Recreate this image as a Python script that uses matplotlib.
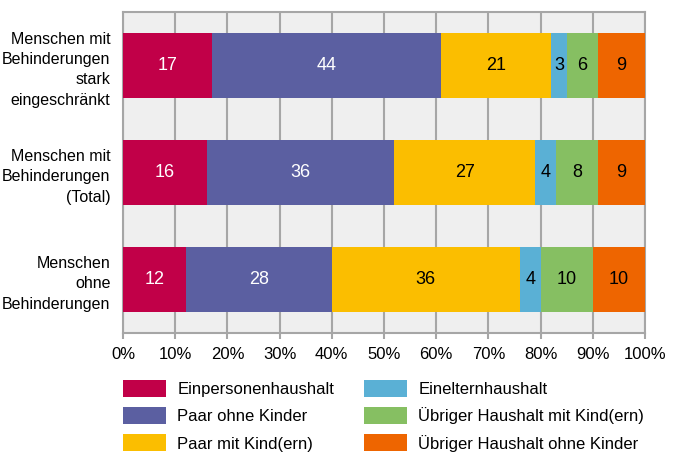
import matplotlib.pyplot as plt
from matplotlib.patches import Patch

plt.rcParams['font.family'] = ['Liberation Sans', 'DejaVu Sans']

groups = ["Menschen mit\nBehinderungen\nstark\neingeschränkt",
          "Menschen mit\nBehinderungen\n(Total)",
          "Menschen\nohne\nBehinderungen"]
series = ["Einpersonenhaushalt", "Paar ohne Kinder", "Paar mit Kind(ern)",
          "Einelternhaushalt", "Übriger Haushalt mit Kind(ern)",
          "Übriger Haushalt ohne Kinder"]
einpersonen = [17, 16, 12]
paar_ohne = [44, 36, 28]
paar_mit = [21, 27, 36]
eineltern = [3, 4, 4]
uebrig_mit = [6, 8, 10]
uebrig_ohne = [9, 9, 10]
values = [einpersonen, paar_ohne, paar_mit, eineltern, uebrig_mit, uebrig_ohne]
colors = ["#C10048", "#5B5FA1", "#FBBE00", "#5AB0D5", "#86BF62", "#EE6500"]
text_colors = ["white", "white", "black", "black", "black", "black"]

fig = plt.figure(figsize=(6.74, 4.53), dpi=100)
ax = fig.add_axes([123 / 674, 1 - 333 / 453, 522 / 674, 321 / 453])
ax.set_facecolor("#EFEFEF")

y = [0, 1, 2]
left = [0, 0, 0]
for vals, col, tc in zip(values, colors, text_colors):
    bars = ax.barh(y, vals, left=left, height=0.6, color=col, zorder=3)
    for b, v in zip(bars, vals):
        ax.text(b.get_x() + b.get_width() / 2, b.get_y() + b.get_height() / 2,
                str(v), ha="center", va="center", color=tc, fontsize=13, zorder=4)
    left = [l + v for l, v in zip(left, vals)]

ax.set_xlim(0, 100)
ax.set_ylim(2.5, -0.5)
ax.set_xticks(range(0, 101, 10))
ax.set_xticklabels([f"{t}%" for t in range(0, 101, 10)], fontsize=12)
ax.set_yticks(y)
ax.set_yticklabels(groups, fontsize=11.5, multialignment="right", linespacing=1.45)
ax.tick_params(axis="y", length=0, pad=9)
ax.tick_params(axis="x", length=4, color="#A6A6A6", width=1.5, pad=6)
ax.grid(axis="x", color="#A6A6A6", linewidth=1.5, zorder=1)
for s in ax.spines.values():
    s.set_color("#A6A6A6")
    s.set_linewidth(1.5)

handles = [Patch(facecolor=c) for c in colors]
fig.legend(handles, series, loc="upper left", bbox_to_anchor=(123 / 674, 1 - 380 / 453),
           ncol=2, frameon=False, fontsize=12, handlelength=2.6, handleheight=1.2,
           handletextpad=0.65, labelspacing=0.6, columnspacing=1.8, borderpad=0,
           borderaxespad=0)

fig.savefig("out.png", dpi=100)
